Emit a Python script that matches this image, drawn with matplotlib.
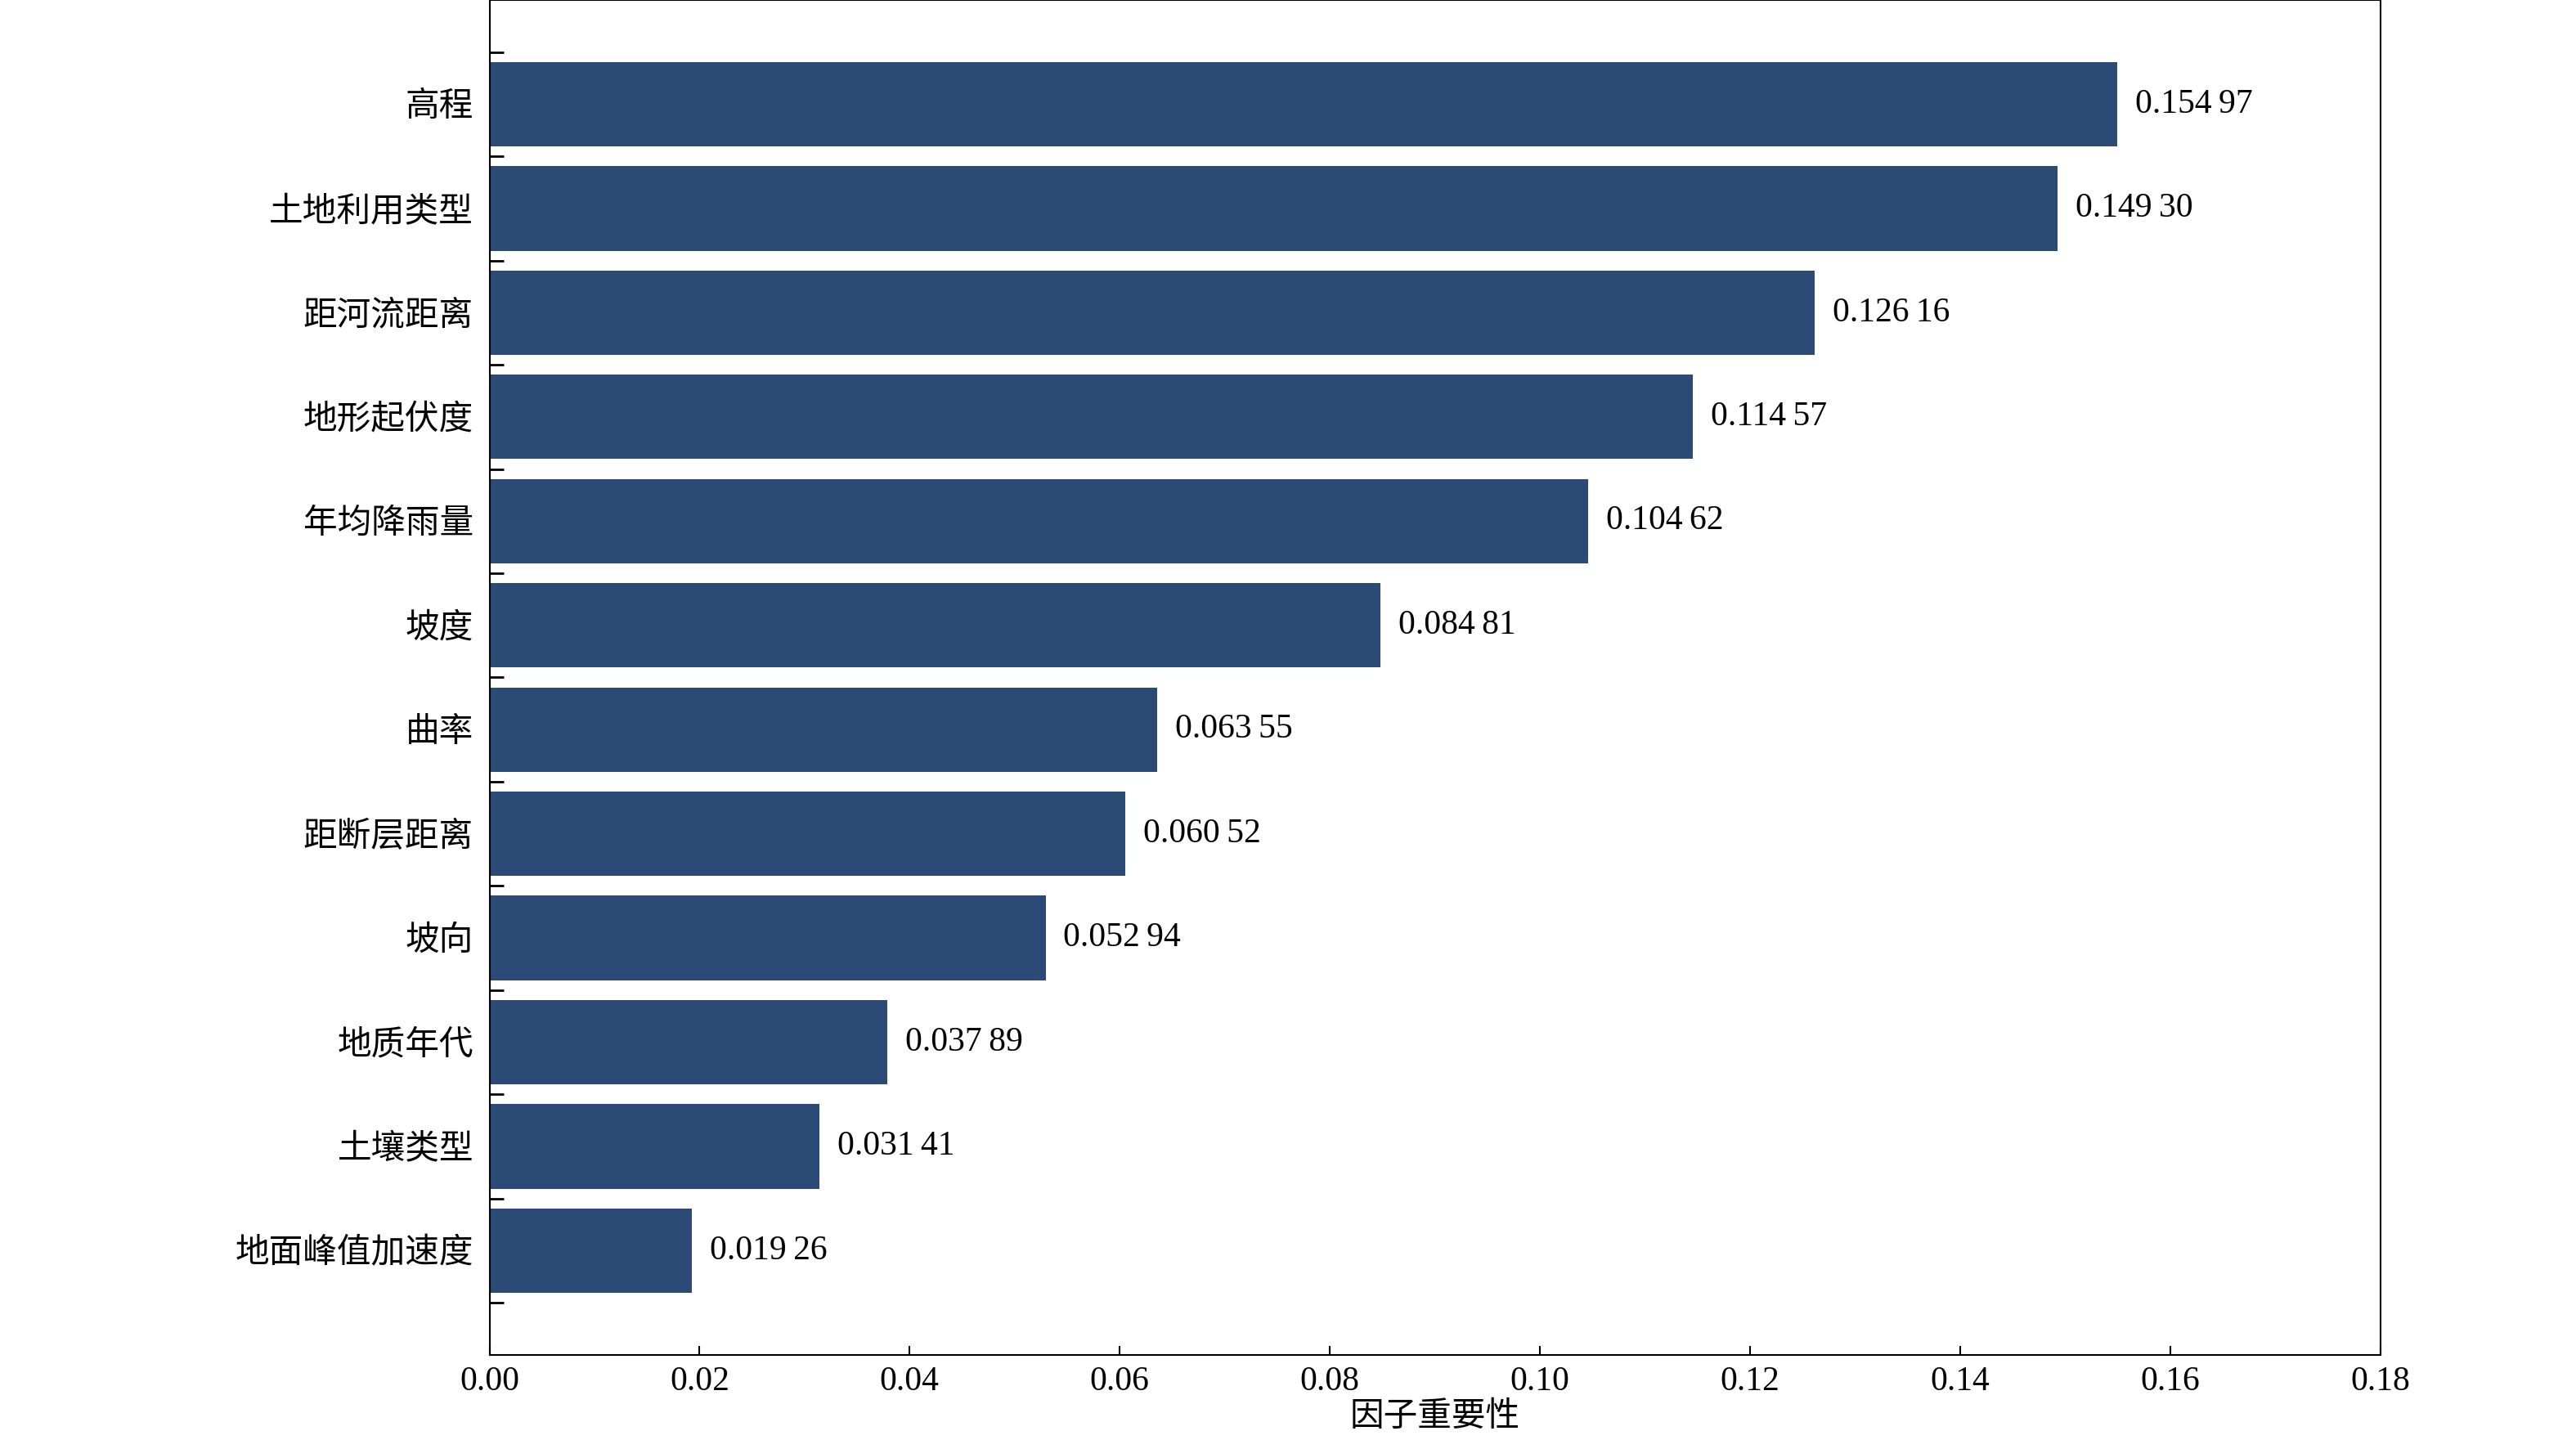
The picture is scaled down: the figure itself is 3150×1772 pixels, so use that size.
import matplotlib.pyplot as plt
import numpy as np

plt.rcParams['font.family'] = ['Liberation Serif', 'Noto Sans CJK SC']

factors = ['高程', '土地利用类型', '距河流距离', '地形起伏度', '年均降雨量', '坡度',
           '曲率', '距断层距离', '坡向', '地质年代', '土壤类型', '地面峰值加速度']
importance = [0.15497, 0.14930, 0.12616, 0.11457, 0.10462, 0.08481,
              0.06355, 0.06052, 0.05294, 0.03789, 0.03141, 0.01926]
value_labels = ['0.154\u200997', '0.149\u200930', '0.126\u200916', '0.114\u200957',
                '0.104\u200962', '0.084\u200981', '0.063\u200955', '0.060\u200952',
                '0.052\u200994', '0.037\u200989', '0.031\u200941', '0.019\u200926']

fig = plt.figure(figsize=(31.5, 17.72), dpi=100)
ax = fig.add_axes([0.19, 0.065, 0.734, 0.935])

y = np.arange(len(factors))
ax.barh(y, importance, height=0.81, color='#2B4A75')
for yi, v, lab in zip(y, importance, value_labels):
    ax.text(v + 0.0017, yi, lab, va='center', ha='left', fontsize=30)

ax.set_ylim(len(factors), -1)
ax.set_xlim(0, 0.18)
ax.set_yticks(y)
ax.set_yticklabels(factors, fontsize=30)
ax.set_yticks(np.arange(-0.5, len(factors) + 0.5, 1), minor=True)
ax.tick_params(axis='y', which='major', length=0, pad=14)
ax.tick_params(axis='y', which='minor', direction='in', length=12, width=2)
ax.set_xticks(np.arange(0, 0.181, 0.02))
ax.set_xticklabels(['%.2f' % t for t in np.arange(0, 0.181, 0.02)], fontsize=30)
ax.tick_params(axis='x', direction='in', length=8, width=1.5, pad=10)
ax.set_xlabel('因子重要性', fontsize=30, labelpad=4)
for s in ax.spines.values():
    s.set_linewidth(1.5)

fig.savefig('out.png', dpi=100)
